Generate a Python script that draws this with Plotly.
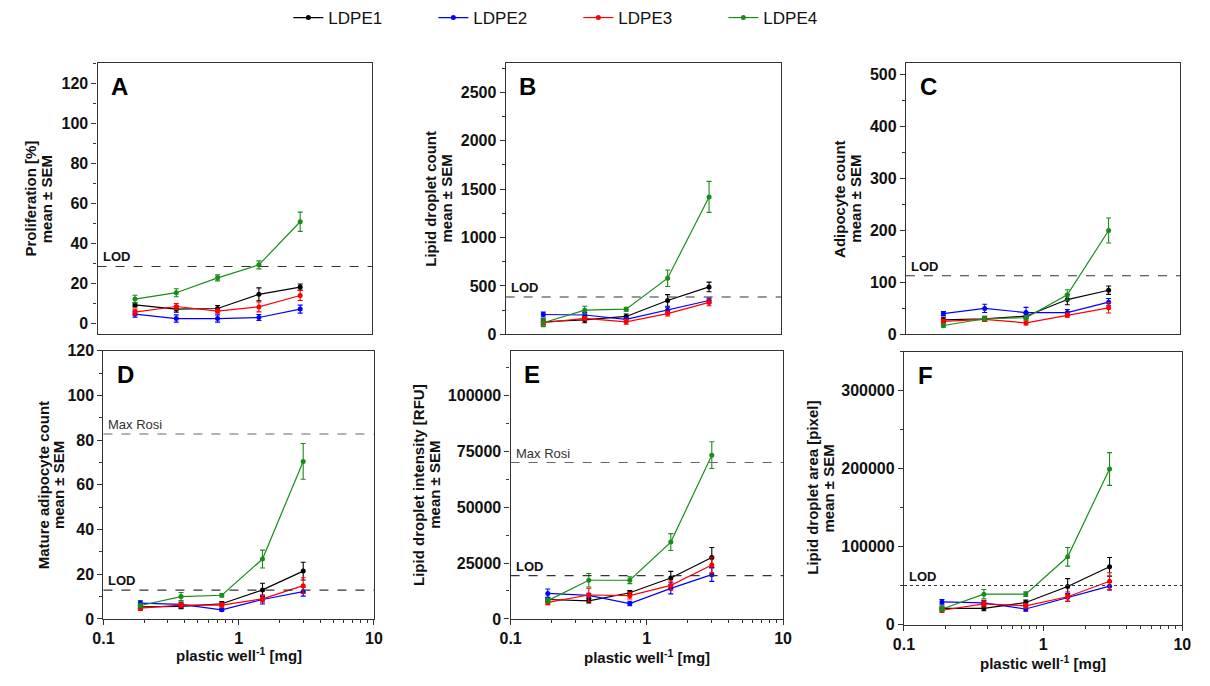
import plotly.graph_objects as go

# ---------------- data ----------------
dose = [0.1875, 0.375, 0.75, 1.5, 3.0]
series_names = ["LDPE1", "LDPE2", "LDPE3", "LDPE4"]
series_colors = ["#000000", "#0000FF", "#FF0000", "#1A8C1A"]

# order of inner lists: LDPE1, LDPE2, LDPE3, LDPE4
prolif_mean = [[9.4, 7.3, 7.6, 14.7, 18.3],
               [4.8, 2.6, 2.6, 3.1, 7.3],
               [5.8, 8.6, 6.3, 8.4, 14.1],
               [12.3, 15.5, 22.9, 29.4, 50.9]]
prolif_sem = [[1.0, 1.5, 1.5, 3.2, 1.5],
              [1.5, 1.8, 1.8, 1.5, 2.0],
              [1.5, 1.5, 1.0, 2.5, 2.5],
              [1.9, 2.0, 1.5, 2.0, 4.8]]

ldcount_mean = [[130, 150, 185, 350, 490],
                [205, 200, 155, 250, 350],
                [120, 165, 130, 215, 330],
                [120, 250, 260, 580, 1420]]
ldcount_sem = [[30, 30, 25, 60, 50],
               [25, 25, 20, 30, 25],
               [25, 20, 25, 25, 35],
               [40, 40, 20, 85, 160]]

adipo_mean = [[28, 30, 35, 67, 85],
              [40, 50, 42, 42, 62],
              [25, 29, 22, 37, 51],
              [17, 30, 32, 76, 200]]
adipo_sem = [[5, 5, 5, 10, 8],
             [4, 8, 10, 6, 7],
             [4, 4, 4, 4, 10],
             [3, 4, 4, 10, 24]]

mature_mean = [[5.4, 5.6, 6.8, 13.0, 21.4],
               [7.1, 6.5, 4.1, 8.7, 12.2],
               [4.8, 6.2, 6.2, 9.0, 14.9],
               [6.0, 10.0, 10.6, 26.8, 70.5]]
mature_sem = [[1.0, 1.0, 1.0, 3.0, 4.0],
              [1.0, 1.0, 0.5, 2.0, 2.0],
              [1.0, 1.0, 1.0, 1.5, 3.5],
              [1.0, 1.8, 0.8, 4.0, 8.0]]

ldint_mean = [[8700, 8100, 11700, 18300, 27500],
              [11400, 10500, 6900, 13700, 19800],
              [7400, 10700, 10400, 15000, 24100],
              [8200, 17300, 17300, 34400, 73300]]
ldint_sem = [[1000, 1000, 1000, 3000, 4500],
             [2000, 1000, 1000, 2500, 3000],
             [1000, 3000, 1500, 2000, 3500],
             [1000, 3000, 1500, 3800, 6000]]

ldarea_mean = [[21000, 21000, 28500, 49100, 74300],
               [29300, 28100, 20200, 35100, 49500],
               [18600, 26800, 24300, 35900, 55700],
               [20200, 39200, 39200, 87100, 199700]]
ldarea_sem = [[3000, 3000, 3000, 10000, 12000],
              [3000, 3000, 3000, 5000, 5000],
              [3000, 4000, 3000, 6000, 11000],
              [3000, 6000, 3000, 12000, 21000]]

lod_values = [28.6, 386, 113, 12.9, 19400, 50300]
maxrosi_values = [None, None, None, 82.8, 70000, None]
panel_letters = ["A", "B", "C", "D", "E", "F"]
ytitles = [["Proliferation [%]", "mean ± SEM"],
           ["Lipid droplet count", "mean ± SEM"],
           ["Adipocyte count", "mean ± SEM"],
           ["Mature adipocyte count", "mean ± SEM"],
           ["Lipid droplet intensity [RFU]", "mean ± SEM"],
           ["Lipid droplet area [pixel]", "mean ± SEM"]]
xtitle = "plastic well<sup>-1</sup> [mg]"

# tick labels
yticks_A = [0, 20, 40, 60, 80, 100, 120]
yticks_B = [0, 500, 1000, 1500, 2000, 2500]
yticks_C = [0, 100, 200, 300, 400, 500]
yticks_D = [0, 20, 40, 60, 80, 100, 120]
yticks_E = [0, 25000, 50000, 75000, 100000]
yticks_F = [0, 100000, 200000, 300000]
xticks = [0.1, 1, 10]
xticks_minor = [0.2, 0.3, 0.4, 0.5, 0.6, 0.7, 0.8, 0.9, 2, 3, 4, 5, 6, 7, 8, 9]

# ---------------- layout geometry (pixels) ----------------
W, H = 1210, 686
boxes = [  # left, right, top, bottom
    (88, 367, 52, 332),
    (503, 783, 52, 332),
    (910, 1189, 52, 332),
    (94, 369, 349, 626),
    (508, 785, 349, 626),
    (908, 1191, 350, 632),
]
yranges = [[-5.3, 130], [0, 2800], [0, 522], [0, 120], [0, 120000], [0, 350000]]
yticks_all = [yticks_A, yticks_B, yticks_C, yticks_D, yticks_E, yticks_F]
yminor = [10, 250, 50, 10, 12500, 50000]
ytitle_x = [(20, 36), (427, 443), (843, 859), (33, 49), (415, 431), (815, 831)]
xtitle_y = [None, None, None, 663, 665, 671]
lod_dash = ["dash", "dash", "dash", "dash", "dash", "dot"]

panels_mean = [prolif_mean, ldcount_mean, adipo_mean, mature_mean, ldint_mean, ldarea_mean]
panels_sem = [prolif_sem, ldcount_sem, adipo_sem, mature_sem, ldint_sem, ldarea_sem]

FONT = "Liberation Sans, Arial, sans-serif"


def b(s):
    return f"<b>{s}</b>"


fig = go.Figure()
annotations = []
shapes = []

for p in range(6):
    l, r, t, bt = boxes[p]
    xa = "xaxis" if p == 0 else f"xaxis{p+1}"
    ya = "yaxis" if p == 0 else f"yaxis{p+1}"
    xr = "x" if p == 0 else f"x{p+1}"
    yr = "y" if p == 0 else f"y{p+1}"
    bottom_row = p >= 3

    for s in range(4):
        fig.add_trace(go.Scatter(
            x=dose, y=panels_mean[p][s],
            error_y=dict(type="data", array=panels_sem[p][s], visible=True,
                         color=series_colors[s], thickness=1.1, width=2.5),
            mode="lines+markers",
            line=dict(color=series_colors[s], width=1.2),
            marker=dict(color=series_colors[s], size=5, symbol="circle"),
            name=series_names[s], showlegend=(p == 0),
            xaxis=xr, yaxis=yr, cliponaxis=False,
        ))

    xdict = dict(
        type="log", range=[-1, 1], domain=[l / W, r / W], anchor=yr,
        showline=True, linecolor="#333333", linewidth=1.3, mirror=True,
        showgrid=False, zeroline=False,
        tickfont=dict(family=FONT, size=16, color="#111111"),
    )
    if bottom_row:
        xdict.update(tickmode="array", tickvals=xticks, ticktext=[b(v) for v in ["0.1", "1", "10"]],
                     ticks="outside", ticklen=5, tickcolor="#333333",
                     minor=dict(tickmode="array", tickvals=xticks_minor,
                                ticks="outside", ticklen=3, tickcolor="#333333"))
    else:
        xdict.update(showticklabels=False, ticks="")
    ydict = dict(
        range=yranges[p], domain=[1 - bt / H, 1 - t / H], anchor=xr,
        showline=True, linecolor="#333333", linewidth=1.3, mirror=True,
        showgrid=False, zeroline=False,
        tickmode="array", tickvals=yticks_all[p], ticktext=[b(v) for v in yticks_all[p]],
        ticks="outside", ticklen=5, tickcolor="#333333",
        minor=dict(dtick=yminor[p], tick0=0, ticks="outside", ticklen=3, tickcolor="#333333"),
        tickfont=dict(family=FONT, size=16, color="#111111"),
    )
    fig.layout[xa] = xdict
    fig.layout[ya] = ydict

    # LOD line
    shapes.append(dict(type="line", xref=f"{xr} domain", yref=yr, x0=0, x1=1,
                       y0=lod_values[p], y1=lod_values[p],
                       line=dict(color="#333333", width=1.1, dash=lod_dash[p])))
    annotations.append(dict(xref=f"{xr} domain", yref=yr, x=0, xshift=3, y=lod_values[p],
                            text=b("LOD"), showarrow=False, xanchor="left", yanchor="bottom",
                            yshift=0, font=dict(family=FONT, size=13, color="#111111")))
    if maxrosi_values[p] is not None:
        shapes.append(dict(type="line", xref=f"{xr} domain", yref=yr, x0=0, x1=1,
                           y0=maxrosi_values[p], y1=maxrosi_values[p],
                           line=dict(color="#666666", width=1.1, dash="dash")))
        annotations.append(dict(xref=f"{xr} domain", yref=yr, x=0, xshift=3, y=maxrosi_values[p],
                                text="Max Rosi", showarrow=False, xanchor="left", yanchor="bottom",
                                yshift=0, font=dict(family=FONT, size=13, color="#333333")))
    # panel letter
    annotations.append(dict(x=(l + 12) / W, y=1 - (t + 8) / H, xref="paper", yref="paper",
                            text=b(panel_letters[p]), showarrow=False, xanchor="left", yanchor="top",
                            font=dict(family=FONT, size=24, color="#000000")))
    # y title (two lines)
    for k in range(2):
        annotations.append(dict(x=ytitle_x[p][k] / W, y=1 - ((t + bt) / 2) / H,
                                xref="paper", yref="paper",
                                text=b(ytitles[p][k]), showarrow=False, textangle=-90,
                                xanchor="center", yanchor="middle",
                                font=dict(family=FONT, size=15, color="#111111")))
    if bottom_row:
        annotations.append(dict(x=((l + r) / 2) / W, y=1 - xtitle_y[p] / H, xref="paper", yref="paper",
                                text=b(xtitle), showarrow=False, xanchor="center", yanchor="middle",
                                font=dict(family=FONT, size=15, color="#111111")))

fig.update_layout(
    width=W, height=H,
    margin=dict(l=0, r=0, t=0, b=0),
    paper_bgcolor="white", plot_bgcolor="white",
    showlegend=True,
    legend=dict(orientation="h", x=282 / W, xanchor="left", y=1.02, yanchor="top",
                font=dict(family=FONT, size=17, color="#111111"),
                entrywidth=100, entrywidthmode="pixels", itemwidth=30,
                bgcolor="rgba(0,0,0,0)"),
    annotations=annotations, shapes=shapes,
)

fig.write_html("out.html")
